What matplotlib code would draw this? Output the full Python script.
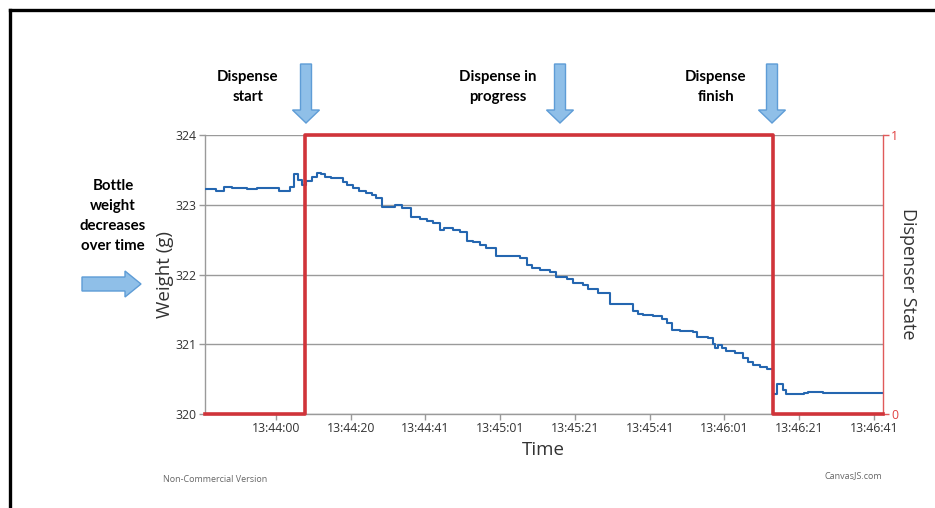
import matplotlib
matplotlib.use("Agg")
import matplotlib.pyplot as plt
from matplotlib.patches import Polygon

# ---- data (time in seconds relative to 13:44:00) ----
time_s = [-18.2, -15.3, -13.1, -11.0, -7.0, -4.3, 1.7, 4.6, 5.7, 6.9, 7.8, 8.9,
          10.7, 11.8, 13.1, 14.0, 15.8, 19.0, 20.0, 21.6, 23.3, 25.2, 26.6, 27.9,
          29.3, 32.9, 34.7, 37.1, 39.6, 41.4, 43.2, 45.1, 46.0, 48.5, 50.3, 52.3,
          53.9, 55.7, 57.3, 60.0, 66.5, 68.3, 69.6, 71.8, 74.5, 76.3, 79.0, 80.8,
          83.5, 84.8, 87.5, 90.7, 96.9, 98.3, 99.6, 102.3, 104.6, 105.9, 107.3,
          109.5, 113.1, 114.0, 117.1, 118.4, 118.9, 119.8, 120.7, 122.0, 124.3,
          126.5, 127.9, 129.2, 131.0, 132.8, 134.6, 135.5, 137.1, 137.9, 142.8,
          144.0, 148.0, 164.1]
weight_g = [323.22, 323.20, 323.26, 323.245, 323.23, 323.245, 323.20, 323.26, 323.44,
            323.355, 323.28, 323.34, 323.40, 323.46, 323.44, 323.40, 323.38, 323.33,
            323.28, 323.235, 323.20, 323.17, 323.14, 323.09, 322.97, 322.99, 322.96,
            322.83, 322.80, 322.77, 322.74, 322.64, 322.66, 322.64, 322.61, 322.48,
            322.46, 322.42, 322.375, 322.27, 322.23, 322.14, 322.10, 322.07, 322.04,
            321.96, 321.93, 321.88, 321.85, 321.79, 321.74, 321.58, 321.47, 321.44,
            321.42, 321.40, 321.36, 321.30, 321.21, 321.19, 321.17, 321.10, 321.085,
            321.01, 320.94, 320.99, 320.94, 320.91, 320.87, 320.81, 320.75, 320.70,
            320.67, 320.64, 320.29, 320.43, 320.34, 320.28, 320.30, 320.32, 320.30,
            320.30]

state_time = [-18.2, 8.65, 134.5, 164.1]
state_val = [0, 1, 0, 0]

tick_pos = [0.85, 20.95, 41.05, 61.15, 81.25, 101.35, 121.45, 141.55, 161.65]
tick_labels = ["13:44:00", "13:44:20", "13:44:41", "13:45:01", "13:45:21",
               "13:45:41", "13:46:01", "13:46:21", "13:46:41"]
weight_ticks = [320, 321, 322, 323, 324]
state_ticks = [0, 1]

W, H = 935, 508
plt.rcParams['font.family'] = ['Open Sans', 'DejaVu Sans']

fig = plt.figure(figsize=(W / 100, H / 100), dpi=100)
fig.patch.set_facecolor('white')

L, R, T, B = 205, 883, 135, 414
ax = fig.add_axes([L / W, 1 - B / H, (R - L) / W, (B - T) / H])
ax.step(time_s, weight_g, where='post', color='#2466b0', lw=1.5, zorder=3)
ax.set_xlim(-18.2, 164.1)
ax.set_ylim(320, 324)
ax.set_yticks(weight_ticks)
ax.set_xticks(tick_pos)
ax.set_xticklabels(tick_labels)
ax.grid(axis='y', color='#9a9a9a', lw=1.0)
ax.grid(axis='x', visible=False)
for s in ['top', 'right']:
    ax.spines[s].set_visible(False)
for s in ['left', 'bottom']:
    ax.spines[s].set_color('#9a9a9a')
    ax.spines[s].set_linewidth(1.0)
ax.tick_params(axis='both', colors='#9a9a9a', labelcolor='#333333', labelsize=8.8,
               length=4, width=1, pad=2)

ax2 = ax.twinx()
ax2.step(state_time, state_val, where='post', color='#d0343a', lw=2.6, clip_on=False,
         zorder=4)
ax2.set_ylim(0, 1)
ax2.set_yticks(state_ticks)
for s in ['top', 'left', 'bottom']:
    ax2.spines[s].set_visible(False)
ax2.spines['right'].set_color('#e05a5a')
ax2.spines['right'].set_linewidth(1.0)
ax2.tick_params(axis='y', colors='#e05a5a', labelcolor='#e04040', labelsize=8.8,
                length=4, width=1, pad=2)

# overlay in pixel coordinates
ov = fig.add_axes([0, 0, 1, 1])
ov.set_xlim(0, W)
ov.set_ylim(H, 0)
ov.axis('off')

ov.text(165, 274, "Weight (g)", rotation=90, ha='center', va='center', fontsize=13.5,
        color='#333333')
ov.text(543, 450, "Time", ha='center', va='center', fontsize=13.5, color='#333333')
ov.text(908, 274, "Dispenser State", rotation=-90, ha='center', va='center',
        fontsize=13, color='#333333')
ov.text(163, 480, "Non-Commercial Version", ha='left', va='center', fontsize=6.5,
        color='#666666')
ov.text(882, 476, "CanvasJS.com", ha='right', va='center', fontsize=6.5, color='#666666')

bold = dict(fontweight='bold', fontsize=10.8, color='black', ha='center', va='center',
            family=['Lato', 'DejaVu Sans'], linespacing=1.55)
ov.text(248, 87, "Dispense\nstart", **bold)
ov.text(498, 87, "Dispense in\nprogress", **bold)
ov.text(716, 87, "Dispense\nfinish", **bold)
ov.text(113, 216, "Bottle\nweight\ndecreases\nover time", **bold)

face, edge = '#8fbfe8', '#5e9cd6'
for cx in [306, 560, 772]:
    pts = [(cx - 5.5, 64), (cx + 5.5, 64), (cx + 5.5, 110), (cx + 13.5, 110),
           (cx, 123), (cx - 13.5, 110), (cx - 5.5, 110)]
    ov.add_patch(Polygon(pts, closed=True, facecolor=face, edgecolor=edge, lw=1))
cy = 284
pts = [(82, cy - 7), (125, cy - 7), (125, cy - 13), (141, cy), (125, cy + 13),
       (125, cy + 7), (82, cy + 7)]
ov.add_patch(Polygon(pts, closed=True, facecolor=face, edgecolor=edge, lw=1))

# frame
ov.plot([10, 10], [10, H], color='black', lw=2.4, solid_capstyle='projecting')
ov.plot([10, W], [10, 10], color='black', lw=2.4, solid_capstyle='projecting')

fig.savefig("out.png", dpi=100)
